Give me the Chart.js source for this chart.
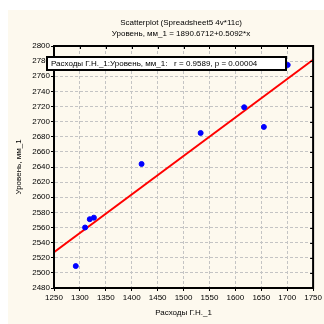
<!DOCTYPE html>
<html>
<head>
<meta charset="utf-8">
<script src="https://cdn.jsdelivr.net/npm/chart.js@4"></script>
<style>
  body { margin: 0; background: #fff; }
  #panel { position: absolute; left: 8px; top: 10px; width: 316px; height: 314px; background: #fdf9ee; }
  #wrap { position: absolute; left: 0; top: 0; width: 324px; height: 324px; }
</style>
</head>
<body>
<div id="panel"></div>
<div id="wrap"><canvas id="myChart" width="324" height="324"></canvas></div>
<script>
// data
const rashody = [1292, 1310, 1319, 1327, 1419, 1533, 1617, 1655, 1701];
const uroven = [2509, 2560, 2571, 2573, 2644, 2685, 2719, 2693, 2775];
const fitX = [1250, 1750];
const fitY = [2527.2, 2781.8]; // 1890.6712 + 0.5092*x at the ends

const titleLines = ["Scatterplot (Spreadsheet5 4v*11c)", "Уровень, мм_1 = 1890.6712+0.5092*x"];
const legendText = "Расходы Г.Н._1:Уровень, мм_1:   r = 0.9589, p = 0.00004";
const xLabel = "Расходы Г.Н._1";
const yLabel = "Уровень, мм_1";

const FONT = "Liberation Sans, Arial, sans-serif";

const extras = {
  id: "extras",
  afterDraw(chart) {
    const c = chart.ctx;
    const a = chart.chartArea;
    c.save();
    // title
    c.fillStyle = "#000";
    c.font = "8px " + FONT;
    c.textAlign = "center";
    c.textBaseline = "middle";
    c.fillText(titleLines[0], 181, 23);
    c.fillText(titleLines[1], 181, 34);
    // inner ticks on top and right
    c.strokeStyle = "#000";
    c.lineWidth = 1;
    const xs = chart.scales.x, ys = chart.scales.y;
    xs.ticks.forEach(t => {
      const px = Math.round(xs.getPixelForValue(t.value)) + 0.5;
      c.beginPath(); c.moveTo(px, a.top); c.lineTo(px, a.top + 3); c.stroke();
    });
    ys.ticks.forEach(t => {
      const py = Math.round(ys.getPixelForValue(t.value)) + 0.5;
      c.beginPath(); c.moveTo(a.right, py); c.lineTo(a.right - 3, py); c.stroke();
    });
    // legend box
    c.fillStyle = "#fff";
    c.fillRect(47, 57, 239, 13);
    c.lineWidth = 2;
    c.strokeRect(47, 57, 239, 13);
    c.fillStyle = "#000";
    c.textAlign = "left";
    c.fillText(legendText, 51, 63.5);
    c.restore();
  }
};

new Chart(document.getElementById("myChart"), {
  data: {
    datasets: [
      {
        type: "scatter",
        data: rashody.map((x, i) => ({ x: x, y: uroven[i] })),
        backgroundColor: "#0000ff",
        borderColor: "#0000ff",
        pointRadius: 2.5,
      },
      {
        type: "line",
        data: fitX.map((x, i) => ({ x: x, y: fitY[i] })),
        borderColor: "#ff0000",
        borderWidth: 2,
        pointRadius: 0,
        fill: false,
      },
    ],
  },
  options: {
    responsive: false,
    animation: false,
    events: [],
    layout: { padding: { top: 46, right: 9, left: 0, bottom: 0 } },
    plugins: { legend: { display: false }, tooltip: { enabled: false } },
    scales: {
      x: {
        type: "linear",
        min: 1250,
        max: 1750,
        ticks: { stepSize: 50, color: "#000", font: { size: 8, family: FONT }, padding: 2, maxRotation: 0, callback: v => String(v) },
        grid: { color: "#c4c4c4", tickColor: "#000", tickLength: 3 },
        border: { color: "#000", width: 2, dash: [3, 2] },
        title: { display: true, text: xLabel, color: "#000", font: { size: 8, family: FONT }, padding: { top: 4, bottom: 6 } },
        afterFit(s) { s.height = 36; },
      },
      y: {
        min: 2480,
        max: 2800,
        ticks: { stepSize: 20, color: "#000", font: { size: 8, family: FONT }, padding: 1, callback: v => String(v) },
        grid: { color: "#c4c4c4", tickColor: "#000", tickLength: 3 },
        border: { color: "#000", width: 2, dash: [3, 2] },
        title: { display: true, text: yLabel, color: "#000", font: { size: 8, family: FONT }, padding: { top: 14, bottom: 0 } },
        afterFit(s) { s.width = 54; },
      },
    },
  },
  plugins: [extras, {
    id: "frame",
    afterDatasetsDraw(chart) {
      const c = chart.ctx, a = chart.chartArea;
      c.save();
      c.strokeStyle = "#000";
      c.lineWidth = 2;
      c.strokeRect(a.left, a.top, a.right - a.left, a.bottom - a.top);
      c.restore();
    }
  }],
});
</script>
</body>
</html>
